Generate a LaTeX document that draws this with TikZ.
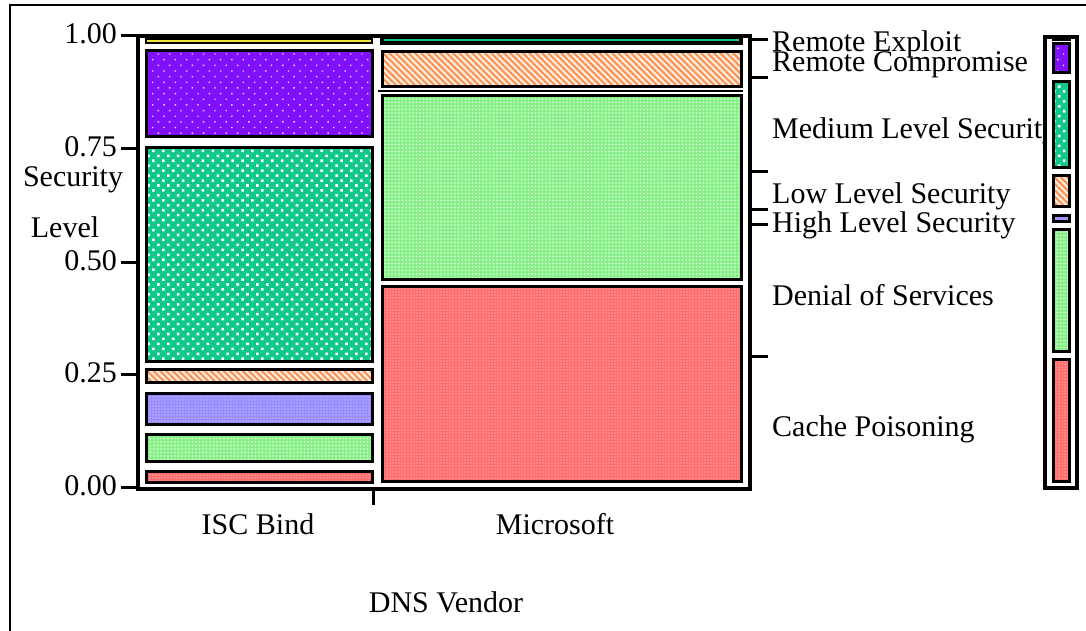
\documentclass[tikz,border=0pt]{standalone}
\usepackage{fontspec}
\setmainfont{Liberation Serif}
\usetikzlibrary{patterns.meta}

\definecolor{cpurple}{RGB}{128,16,250}
\definecolor{cteal}{RGB}{16,200,140}
\definecolor{corange}{RGB}{250,140,70}
\definecolor{cblue}{RGB}{150,140,255}
\definecolor{cgreen}{RGB}{135,240,135}
\definecolor{cred}{RGB}{255,110,110}
\definecolor{cyellow}{RGB}{240,230,60}

\begin{document}
\begin{tikzpicture}[x=1pt,y=-1pt,
    seg/.style={draw=black, line width=3pt},
    txt/.style={font=\fontsize{30}{31}\selectfont, inner sep=0pt},
    exploit/.style={preaction={fill=cyellow}},
    compromise/.style={preaction={fill=cpurple}, pattern={Dots[distance=8pt,radius=1pt,angle=45]}, pattern color=white!80!cpurple},
    medium/.style={preaction={fill=cteal}, pattern={Dots[distance=7pt,radius=1.8pt,angle=45]}, pattern color=white},
    low/.style={preaction={fill=white!80!corange}, pattern={Lines[angle=-45,distance=4.5pt,line width=1.8pt]}, pattern color=corange},
    high/.style={preaction={fill=cblue}, pattern={Dots[distance=3pt,radius=0.7pt]}, pattern color=white!75!cblue},
    dos/.style={preaction={fill=cgreen}, pattern={Dots[distance=3.5pt,radius=0.9pt]}, pattern color=white!80!cgreen},
    cache/.style={preaction={fill=cred}, pattern={Dots[distance=3pt,radius=0.7pt]}, pattern color=white!70!cred}]
  \useasboundingbox (0,0) rectangle (1086,631);
  % outer frame
  \draw[line width=2.5pt] (10,631) -- (10,5) -- (1086,5);

  % ISC Bind column
  \draw[seg, line width=2pt, exploit] (146,39.5) rectangle (372,43.5);
  \draw[seg, compromise] (146,51) rectangle (372,137);
  \draw[seg, medium] (146,148) rectangle (372,361);
  \draw[seg, low] (146,369) rectangle (372,382);
  \draw[seg, high] (146,393) rectangle (372,424);
  \draw[seg, dos] (146,434) rectangle (372,461);
  \draw[seg, cache] (146,471) rectangle (372,482);

  % Microsoft column
  \draw[seg, line width=4pt, preaction={fill=cteal}] (382,37) rectangle (741,43);
  \draw[seg, low] (382,52) rectangle (741,87);
  \draw[line width=2pt] (378,91) -- (743,91);
  \draw[seg, dos] (382,96) rectangle (741,279);
  \draw[seg, cache] (382,286) rectangle (741,481);

  % plot frame and ticks
  \draw[line width=4pt] (138,36) rectangle (750,489);
  \foreach \yy/\val in {36/1.00,149/0.75,262/0.50,374/0.25,487/0.00} {
    \draw[line width=3pt] (121,\yy) -- (138,\yy);
    \node[txt, anchor=base east] at (117,\yy+8) {\val};
  }
  \draw[line width=3pt] (373,489) -- (373,505);
  \foreach \yy in {40,78,172,209,224,356}
    \draw[line width=3pt] (750,\yy) -- (768,\yy);

  % axis titles
  \node[txt, anchor=base] (ytop) at (73,186) {Security};
  \node[txt, anchor=base] (ybot) at (65,237) {Level};
  \node[txt, anchor=base] (isc) at (258,534) {ISC Bind};
  \node[txt, anchor=base] (ms) at (555,534) {Microsoft};
  \node[txt, anchor=base] (xtitle) at (446,612) {DNS Vendor};

  % category labels
  \node[txt, anchor=base west] (lexploit) at (772,52) {Remote Exploit};
  \node[txt, anchor=base west] (lcomp) at (772,72) {Remote Compromise};
  \node[txt, anchor=base west] (lmed) at (772,139) {Medium Level Security};
  \node[txt, anchor=base west] (llow) at (772,204) {Low Level Security};
  \node[txt, anchor=base west] (lhigh) at (772,232) {High Level Security};
  \node[txt, anchor=base west] (ldos) at (772,305) {Denial of Services};
  \node[txt, anchor=base west] (lcache) at (772,436) {Cache Poisoning};

  % marginal bar
  \draw[line width=4pt, fill=white] (1045,37) rectangle (1077,488);
  \draw[line width=3pt, fill=black] (1053,37) rectangle (1069,40);
  \draw[seg, compromise] (1053,44) rectangle (1069,73);
  \draw[seg, medium] (1053,82) rectangle (1069,168);
  \draw[seg, low] (1053,176) rectangle (1069,206);
  \draw[seg, high] (1053,215) rectangle (1069,221);
  \draw[seg, dos] (1053,229) rectangle (1069,351);
  \draw[seg, cache] (1053,359) rectangle (1069,481);
\end{tikzpicture}
\end{document}
